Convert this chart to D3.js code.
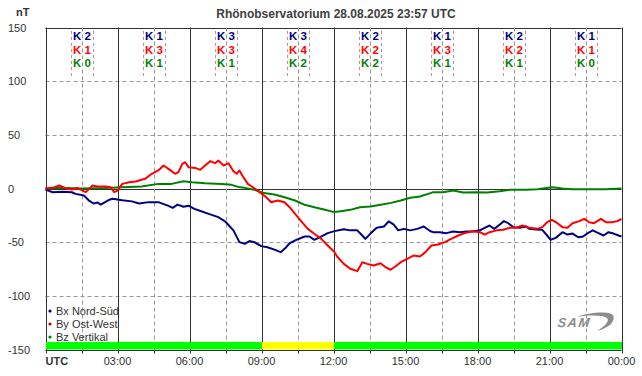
<!DOCTYPE html>
<html>
<head>
<meta charset="utf-8">
<script src="https://cdn.jsdelivr.net/npm/d3@7"></script>
<style>
    html, body { margin: 0; padding: 0; background: #fff; }
    svg { display: block; font-family: "Liberation Sans", Arial, sans-serif; }
</style>
</head>
<body>
<div class="charts-div"></div>
<script>
// hours UTC / nT values
const bxTime = [0, 0.3, 0.7, 1.1, 1.25, 1.6, 1.8, 2.0, 2.17, 2.3, 2.65, 2.8, 3.2, 3.6, 3.9, 4.3, 4.7, 5.1, 5.3, 5.5, 5.75, 5.96, 6.2, 6.4, 6.8, 7.2, 7.5, 7.83, 8.08, 8.3, 8.5, 8.7, 8.99, 9.25, 9.54, 9.8, 10.03, 10.17, 10.45, 10.8, 11.0, 11.2, 11.5, 11.76, 12.04, 12.43, 12.7, 12.99, 13.2, 13.33, 13.54, 13.8, 14.1, 14.3, 14.5, 14.7, 14.93, 15.2, 15.49, 15.76, 16.04, 16.15, 16.43, 16.7, 16.99, 17.26, 17.54, 17.8, 18.1, 18.3, 18.5, 18.7, 18.93, 19.1, 19.28, 19.49, 19.76, 20.04, 20.15, 20.43, 20.7, 20.9, 21.05, 21.26, 21.54, 21.75, 21.96, 22.2, 22.4, 22.6, 22.8, 23.04, 23.25, 23.46, 23.67, 23.88, 24];
const bxValues = [-1, -3.5, -3, -3.5, -5, -6.5, -11, -14, -13, -15, -10.5, -9.6, -11, -12, -14, -12.7, -12.7, -16, -18, -15, -17, -16, -19, -20.5, -23.6, -26.7, -31, -39, -50, -51.5, -49, -50, -53.7, -54.7, -57, -59.3, -54.7, -51, -47.8, -44.7, -44.7, -47.8, -44.7, -41.6, -39.7, -37.9, -39, -39, -43.8, -46.9, -42, -36.6, -35.4, -30.7, -33.5, -39, -37.6, -39, -37.6, -35.4, -39.8, -40.7, -40.7, -41.6, -40, -40.7, -40, -40, -39, -36.6, -34.5, -37.6, -33.5, -30.4, -32.3, -36, -36.6, -35.4, -37.6, -38.2, -38.5, -43.8, -47.8, -46, -40.7, -42.9, -42, -45.4, -44.7, -41.6, -39, -41.6, -43.8, -40.7, -42, -43.8, -44.7];

const byTime = [0, 0.3, 0.57, 0.85, 1.1, 1.3, 1.68, 1.96, 2.17, 2.5, 2.72, 2.86, 3.0, 3.2, 3.49, 3.76, 4.0, 4.15, 4.43, 4.7, 4.92, 5.125, 5.4, 5.54, 5.7, 5.82, 5.96, 6.24, 6.45, 6.65, 6.86, 7.07, 7.2, 7.42, 7.625, 7.83, 7.97, 8.08, 8.2, 8.43, 8.64, 8.92, 9.2, 9.4, 9.68, 9.96, 10.17, 10.4, 10.65, 10.93, 11.2, 11.49, 11.76, 12.04, 12.15, 12.43, 12.7, 12.99, 13.2, 13.4, 13.68, 13.96, 14.17, 14.375, 14.58, 14.8, 15.07, 15.35, 15.6, 15.83, 16.08, 16.36, 16.64, 16.9, 17.2, 17.47, 17.8, 18.1, 18.3, 18.5, 18.8, 19.07, 19.35, 19.6, 19.875, 20.15, 20.5, 20.7, 20.9, 21.1, 21.33, 21.54, 21.75, 21.96, 22.24, 22.45, 22.65, 22.86, 23.14, 23.35, 23.6, 23.83, 24];
const byValues = [0, 0.6, 2.8, 0, -1, 0.5, -3.4, 2.8, 1.9, 1.9, 1.2, -3.4, -1.9, 4.3, 5.9, 6.5, 8.1, 9, 13.7, 16.8, 21.4, 18.3, 13.7, 15.2, 23, 24.5, 19.9, 19.2, 17.4, 21.4, 25.5, 23.6, 26, 21.4, 23.6, 16.1, 13.7, 16.8, 12.1, 4.3, 1.2, -3.4, -8.1, -12.8, -11.2, -12.8, -17.4, -23.6, -30.4, -37.6, -42.2, -46.9, -53.1, -59.3, -63.4, -70.2, -74.8, -77, -68.7, -70.2, -71.7, -69.6, -73.3, -75.7, -72.7, -68.7, -65.5, -62.4, -63.4, -59.3, -53.1, -52.2, -50, -46.9, -43.8, -41.6, -39.8, -40.7, -42.9, -40.7, -39, -38.5, -36.6, -36.6, -34.5, -36.6, -37.6, -36, -31.4, -29.2, -32.3, -36, -36.6, -32.3, -30.4, -28.3, -31.4, -32.3, -28.3, -31.4, -31.4, -30.4, -28.3];

const bzTime = [0, 0.57, 1.5, 2.5, 3.2, 4.0, 4.7, 5.25, 5.75, 6.1, 6.65, 7.35, 7.75, 8.04, 8.3, 8.7, 9.1, 9.54, 9.96, 10.4, 10.8, 11.2, 11.6, 12.04, 12.3, 12.7, 13.1, 13.54, 13.96, 14.4, 14.8, 15.2, 15.6, 16.04, 16.15, 16.57, 16.99, 17.4, 17.96, 18.4, 18.93, 19.35, 20.04, 20.5, 21.1, 21.54, 21.96, 22.65, 23.35, 24];
const bzValues = [0, 0.6, 0, 0.5, 1.2, 1.9, 4.3, 4.3, 6.8, 5.9, 5, 4.3, 3.4, 1.5, 0.6, -1.2, -4.3, -5.6, -8.1, -11.2, -15.2, -17.4, -19.6, -22, -21.1, -19.9, -17.4, -16.8, -15.2, -13.4, -11.2, -8.7, -7.5, -4.3, -3.4, -3.4, -1.9, -3.7, -3.4, -3.7, -2.5, -1.2, -1.2, -0.6, 1.2, 0, -0.6, -0.6, -0.6, 0];

// K index per 3h block
const kBx = [2, 1, 3, 3, 2, 1, 2, 1];
const kBy = [1, 3, 3, 4, 2, 3, 2, 1];
const kBz = [0, 1, 1, 2, 2, 1, 1, 0];

// status bar per 3h block
const statusBlocks = ["green", "green", "green", "yellow", "green", "green", "green", "green"];

const yTicks = [150, 100, 50, 0, -50, -100, -150];
const xLabels = ["UTC", "03:00", "06:00", "09:00", "12:00", "15:00", "18:00", "21:00", "00:00"];
const seriesNames = ["Bx Nord-Süd", "By Ost-West", "Bz Vertikal"];

const chartGeneration = () => {
    const width = 642,
        height = 376;
    const margin = { top: 27.5, right: 20.5, bottom: 26.5, left: 45.5 };

    const colors = { bx: "#000080", by: "#ff0000", bz: "#008000" };
    const statusColor = { green: "#00ff00", yellow: "#ffff00" };
    const textColor = "#333333";

    const x = d3.scaleLinear().domain([0, 24]).range([margin.left, width - margin.right]);
    const y = d3.scaleLinear().domain([-150, 150]).range([height - margin.bottom, margin.top]);

    const svg = d3.select(".charts-div").append("svg").attr("width", width).attr("height", height);

    svg.append("text")
        .attr("x", 336)
        .attr("y", 18)
        .attr("text-anchor", "middle")
        .attr("font-size", 12)
        .attr("font-weight", "bold")
        .attr("fill", "#404040")
        .text("Rhönobservatorium 28.08.2025 23:57 UTC");

    svg.append("text")
        .attr("x", 16)
        .attr("y", 16)
        .attr("font-size", 11)
        .attr("font-weight", "bold")
        .attr("fill", textColor)
        .text("nT");

    const grid = svg.append("g").attr("class", "grid");

    // horizontal grid
    grid.selectAll("line.h")
        .data(yTicks)
        .enter()
        .append("line")
        .attr("class", "h")
        .attr("x1", x(0))
        .attr("x2", x(24))
        .attr("y1", (d) => Math.round(y(d)) + 0.5)
        .attr("y2", (d) => Math.round(y(d)) + 0.5)
        .attr("stroke", (d) => (d === 0 || Math.abs(d) === 150 ? "#333" : "#999"))
        .attr("stroke-dasharray", (d) => (d === 0 || Math.abs(d) === 150 ? null : "4,3"));

    // vertical grid, half-blocks dashed
    const vTicks = d3.range(0, 24.01, 1.5);
    grid.selectAll("line.v")
        .data(vTicks)
        .enter()
        .append("line")
        .attr("class", "v")
        .attr("x1", (d) => Math.round(x(d)) + 0.5)
        .attr("x2", (d) => Math.round(x(d)) + 0.5)
        .attr("y1", y(150))
        .attr("y2", y(-150) + 4)
        .attr("stroke", (d) => (d % 3 === 0 ? "#333" : "#999"))
        .attr("stroke-dasharray", (d) => (d % 3 === 0 ? null : "4,3"));

    grid.selectAll("line.tick")
        .data(vTicks.filter((d) => d % 3 !== 0))
        .enter()
        .append("line")
        .attr("class", "tick")
        .attr("x1", (d) => Math.round(x(d)) + 0.5)
        .attr("x2", (d) => Math.round(x(d)) + 0.5)
        .attr("y1", y(-150))
        .attr("y2", y(-150) + 4)
        .attr("stroke", "#333");

    // status bar
    svg.selectAll("rect.status")
        .data(statusBlocks)
        .enter()
        .append("rect")
        .attr("class", "status")
        .attr("x", (d, i) => x(i * 3) + 0.5)
        .attr("width", (d, i) => x(i * 3 + 3) - x(i * 3))
        .attr("y", y(-143))
        .attr("height", y(-150) - y(-143))
        .attr("fill", (d) => statusColor[d]);

    // y labels
    svg.selectAll("text.ylab")
        .data(yTicks)
        .enter()
        .append("text")
        .attr("class", "ylab")
        .attr("x", 8)
        .attr("y", (d) => y(d) + 4)
        .attr("font-size", 11)
        .attr("fill", textColor)
        .text((d) => d);

    // x labels
    svg.selectAll("text.xlab")
        .data(xLabels)
        .enter()
        .append("text")
        .attr("class", "xlab")
        .attr("x", (d, i) => (i === 0 ? x(0) : x(i * 3)))
        .attr("y", 365)
        .attr("text-anchor", (d, i) => (i === 0 ? "start" : "middle"))
        .attr("font-size", 11)
        .attr("font-weight", (d, i) => (i === 0 ? "bold" : null))
        .attr("fill", textColor)
        .text((d) => d);

    // K index boxes
    const kRows = [
        { values: kBx, color: colors.bx },
        { values: kBy, color: colors.by },
        { values: kBz, color: colors.bz }
    ];
    const kBox = svg.selectAll("g.kbox")
        .data(d3.range(8))
        .enter()
        .append("g")
        .attr("class", "kbox")
        .attr("transform", (i) => `translate(${Math.round(x(i * 3 + 1.5))},0)`);

    kBox.selectAll("line")
        .data([-11, 11])
        .enter()
        .append("line")
        .attr("x1", (d) => d + 0.5)
        .attr("x2", (d) => d + 0.5)
        .attr("y1", 31)
        .attr("y2", 77)
        .attr("stroke", "#c09090")
        .attr("stroke-dasharray", "3,3");

    kRows.forEach((row, r) => {
        kBox.append("text")
            .attr("y", 40 + r * 13.5)
            .attr("text-anchor", "middle")
            .attr("font-size", 11.5)
            .attr("font-weight", "bold")
            .attr("fill", row.color)
            .text((i) => `K ${row.values[i]}`);
    });

    // series lines
    const line = d3
        .line()
        .x((d) => x(d[0]))
        .y((d) => y(d[1]));

    const series = [
        { time: bzTime, values: bzValues, color: colors.bz },
        { time: bxTime, values: bxValues, color: colors.bx },
        { time: byTime, values: byValues, color: colors.by }
    ];

    series.forEach((s) => {
        svg.append("path")
            .datum(d3.zip(s.time, s.values))
            .attr("fill", "none")
            .attr("stroke", s.color)
            .attr("stroke-width", 2)
            .attr("stroke-linejoin", "round")
            .attr("d", line);
    });

    // legend
    const legendColors = [colors.bx, "#cc0000", colors.bz];
    const legend = svg.selectAll("g.legend")
        .data(seriesNames)
        .enter()
        .append("g")
        .attr("class", "legend")
        .attr("transform", (d, i) => `translate(50,${311 + i * 13})`);

    legend.append("circle")
        .attr("r", 1.6)
        .attr("fill", (d, i) => legendColors[i]);

    legend.append("text")
        .attr("x", 6)
        .attr("y", 4)
        .attr("font-size", 11)
        .attr("fill", textColor)
        .text((d) => d);

    // SAM logo
    const logo = svg.append("g").attr("transform", "translate(557,312)");
    logo.append("path")
        .attr("d", "M20,5 C32,0 52,-1 56,3 C59,9 52,16 40,19 C48,14 53,9 50,6 C45,3 32,3 20,5 Z")
        .attr("fill", "#8c8c8c");
    logo.append("text")
        .attr("x", 2)
        .attr("y", 15)
        .attr("font-size", 13)
        .attr("font-style", "italic")
        .attr("font-weight", "bold")
        .attr("letter-spacing", 1.5)
        .attr("fill", "#8c8c8c")
        .attr("transform", "skewX(-8)")
        .text("SAM");
};

chartGeneration();
</script>
</body>
</html>
